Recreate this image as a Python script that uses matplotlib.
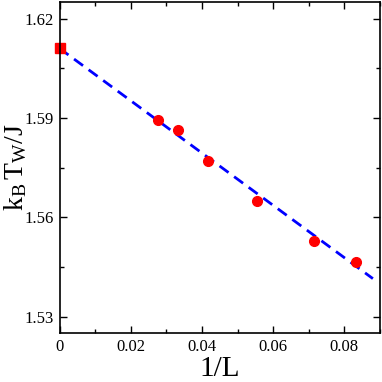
import numpy as np
import matplotlib
matplotlib.use("Agg")
import matplotlib.pyplot as plt
from matplotlib.ticker import MultipleLocator

plt.rcParams["font.family"] = ["Liberation Serif", "DejaVu Serif"]
plt.rcParams["mathtext.fontset"] = "custom"
plt.rcParams["mathtext.rm"] = "Liberation Serif"
plt.rcParams["mathtext.it"] = "Liberation Serif"
plt.rcParams["mathtext.bf"] = "Liberation Serif:bold"

# finite-size data: 1/L and wetting temperature
inv_L = [1/36, 1/30, 1/24, 1/18, 1/14, 1/12]
T_w = [1.5893, 1.5863, 1.5771, 1.5649, 1.5528, 1.5466]

# extrapolated value at 1/L = 0
inv_L_inf = [0.0]
T_w_inf = [1.6110]

# linear fit line
fit_x = [0.0, 0.088]
fit_y = [1.6110, 1.5415]

fig = plt.figure(figsize=(3.82, 3.82), dpi=100)
ax = fig.add_axes([0.1558, 0.1275, 0.839, 0.8673])

ax.plot(fit_x, fit_y, "--", color="#0000ff", lw=2, dashes=(4, 2.5))
ax.plot(inv_L, T_w, "o", color="red", ms=7)
ax.plot(inv_L_inf, T_w_inf, "s", color="red", ms=6.5, clip_on=False)

ax.set_xlim(0, 0.09)
ax.set_ylim(1.525, 1.625)
ax.xaxis.set_minor_locator(MultipleLocator(0.01))
ax.yaxis.set_minor_locator(MultipleLocator(0.015))
ax.set_yticks([1.53, 1.56, 1.59, 1.62])
ax.set_xticks([0, 0.02, 0.04, 0.06, 0.08])
ax.set_xticklabels(["0", "0.02", "0.04", "0.06", "0.08"])
ax.set_yticklabels(["1.53", "1.56", "1.59", "1.62"])

ax.tick_params(which="both", direction="in", top=True, right=True, labelsize=12, width=1)
ax.tick_params(which="major", length=5, pad=4)
ax.tick_params(which="minor", length=3)
for s in ax.spines.values():
    s.set_linewidth(1.2)

ax.set_xlabel("1/L", fontsize=21, labelpad=1)
ax.set_ylabel(r"$\mathrm{k_B\,T_W/J}$", fontsize=20)
ax.yaxis.set_label_coords(-0.095, 0.5)

fig.savefig("out.png", dpi=100)
